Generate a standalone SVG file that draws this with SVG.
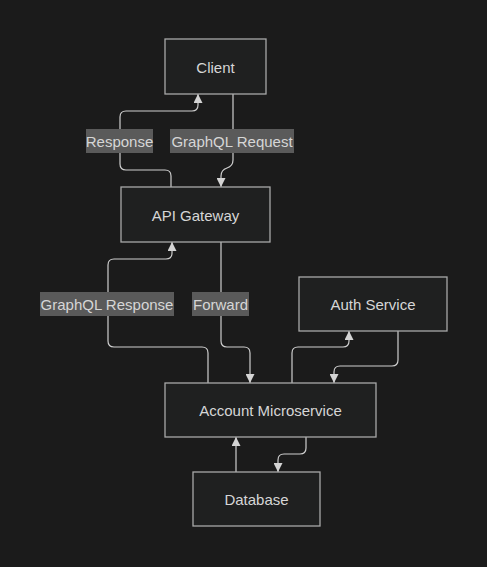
<svg xmlns="http://www.w3.org/2000/svg" width="487" height="567" viewBox="0 0 487 567">
<defs>
<marker id="arr" viewBox="0 0 10 10" refX="10" refY="5" markerWidth="9" markerHeight="9" markerUnits="userSpaceOnUse" orient="auto">
<path d="M0,0 L10,5 L0,10 z" fill="#d4d4d4"/>
</marker>
<style>
.node rect{fill:#1f2020;stroke:#a8a8a8;stroke-width:1.3}
.node text{fill:#d6d6d6;font-family:"Liberation Sans",Arial,sans-serif;font-size:15px;text-anchor:middle;dominant-baseline:central}
.edge{fill:none;stroke:#cfcfcf;stroke-width:1.2;marker-end:url(#arr)}
.lbl rect{fill:#5a5a5a}
.lbl text{fill:#d6d6d6;font-family:"Liberation Sans",Arial,sans-serif;font-size:15px;text-anchor:middle;dominant-baseline:central}
</style>
</defs>
<rect width="487" height="567" fill="#1b1b1b"/>
<g id="connectors">
<path class="edge" d="M233,94 V160 Q233,166 227,168 Q221,170 221,176 V187"/>
<path class="edge" d="M171,187 V176 Q171,170 165,170 H126 Q120,170 120,164 V117 Q120,111 126,111 H192 Q198,111 198,105 V94"/>
<path class="edge" d="M221,242 V341 Q221,347 227,347 H244 Q250,347 250,353 V383"/>
<path class="edge" d="M208,383 V353 Q208,347 202,347 H114 Q108,347 108,341 V265 Q108,259 114,259 H166 Q172,259 172,253 V242"/>
<path class="edge" d="M292,383 V353 Q292,347 298,347 H343 Q349,347 349,341 V331"/>
<path class="edge" d="M398,331 V360 Q398,366 392,366 H340 Q334,366 334,372 V383"/>
<path class="edge" d="M306,437 V448 Q306,454 300,454 H284 Q278,454 278,460 V472"/>
<path class="edge" d="M236,472 V437"/>
<g class="lbl">
<rect x="170" y="129" width="124" height="24"/><text x="232" y="141">GraphQL Request</text>
<rect x="86" y="129" width="67" height="24"/><text x="119.5" y="141">Response</text>
<rect x="192" y="292" width="57" height="24"/><text x="220.5" y="304">Forward</text>
<rect x="40" y="292" width="134" height="24"/><text x="107" y="304">GraphQL Response</text>
</g>
</g>
<g id="client" class="node"><rect x="165" y="39" width="101" height="55"/><text x="215.5" y="67">Client</text></g>
<g id="api-gateway" class="node"><rect x="121" y="187" width="149" height="55"/><text x="195.5" y="215">API Gateway</text></g>
<g id="auth-service" class="node"><rect x="299" y="277" width="148" height="54"/><text x="373" y="304">Auth Service</text></g>
<g id="account-microservice" class="node"><rect x="165" y="383" width="211" height="54"/><text x="270.5" y="410">Account Microservice</text></g>
<g id="database" class="node"><rect x="193" y="472" width="127" height="54"/><text x="256.5" y="499">Database</text></g>
</svg>
